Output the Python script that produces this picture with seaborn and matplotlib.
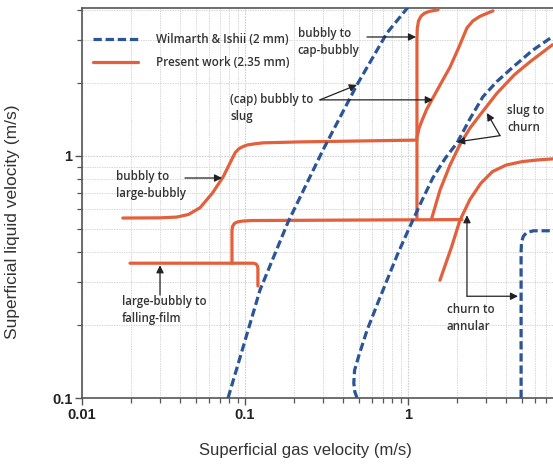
import numpy as np
import pandas as pd
import matplotlib
matplotlib.use("Agg")
import matplotlib.pyplot as plt
import seaborn as sns
from matplotlib.lines import Line2D
from matplotlib.ticker import LogLocator, NullFormatter, FixedLocator, FixedFormatter

# ---------------- data ----------------
# Wilmarth & Ishii (2 mm) transitions
wi_bubbly_slug_x = [0.0787, 0.1236, 0.1836, 0.301, 0.486, 0.743, 1.0]
wi_bubbly_slug_y = [0.10, 0.279, 0.532, 1.056, 1.96, 3.21, 4.1]

wi_slug_churn_x = [0.487, 0.472, 0.465, 0.470, 0.50, 0.56, 0.65, 0.743, 0.86, 1.0, 1.2, 1.42, 1.7, 2.0, 2.4, 2.88, 3.5, 4.4, 5.8, 7.7]
wi_slug_churn_y = [0.10, 0.106, 0.115, 0.13, 0.15, 0.19, 0.245, 0.306, 0.39, 0.49, 0.64, 0.81, 0.98, 1.13, 1.42, 1.75, 2.02, 2.32, 2.72, 3.1]

wi_churn_annular_x = [4.94, 4.94, 4.97, 5.1, 5.35, 5.9, 7.7]
wi_churn_annular_y = [0.10, 0.40, 0.44, 0.465, 0.482, 0.49, 0.49]

# Present work (2.35 mm) transitions
pw_bubbly_large_x = [0.0178, 0.030, 0.038, 0.045, 0.053, 0.063, 0.0734, 0.082, 0.0871, 0.092, 0.097, 0.103, 0.115, 0.129, 0.217, 0.5, 1.135]
pw_bubbly_large_y = [0.553, 0.554, 0.558, 0.572, 0.61, 0.70, 0.817, 0.95, 1.03, 1.07, 1.09, 1.107, 1.12, 1.13, 1.14, 1.15, 1.16]

pw_bubbly_cap_x = [1.135, 1.135, 1.14, 1.16, 1.20, 1.26, 1.35, 1.53]
pw_bubbly_cap_y = [0.545, 3.05, 3.35, 3.6, 3.76, 3.87, 3.94, 4.0]

pw_cap_slug_x = [1.135, 1.17, 1.22, 1.30, 1.40, 1.60, 1.81, 2.05, 2.30, 2.50, 2.76, 3.32]
pw_cap_slug_y = [1.19, 1.30, 1.40, 1.55, 1.70, 2.0, 2.32, 2.80, 3.37, 3.60, 3.76, 3.96]

pw_lower_x = [0.0832, 0.0832, 0.0838, 0.086, 0.090, 0.096, 0.11, 2.14]
pw_lower_y = [0.36, 0.49, 0.51, 0.525, 0.533, 0.537, 0.54, 0.545]

pw_falling_x = [0.0197, 0.113, 0.117, 0.1195, 0.12, 0.12]
pw_falling_y = [0.36, 0.36, 0.357, 0.35, 0.34, 0.29]

pw_slug_churn_x = [1.40, 1.57, 1.81, 2.08, 2.40, 2.76, 3.51, 4.5, 5.6, 7.7]
pw_slug_churn_y = [0.553, 0.72, 0.915, 1.11, 1.30, 1.47, 1.81, 2.16, 2.44, 2.87]

pw_churn_annular_x = [1.57, 1.85, 2.08, 2.4, 2.8, 3.3, 4.0, 5.0, 6.2, 7.7]
pw_churn_annular_y = [0.306, 0.42, 0.54, 0.66, 0.77, 0.86, 0.915, 0.945, 0.96, 0.97]

legend_labels = ["Wilmarth & Ishii (2 mm)", "Present work (2.35 mm)"]
x_ticks = [0.01, 0.1, 1]
x_tick_labels = ["0.01", "0.1", "1"]
y_ticks = [0.1, 1]
y_tick_labels = ["0.1", "1"]

# ---------------- styling ----------------
sns.set_theme(style="white")
plt.rcParams['font.family'] = ['Liberation Sans', 'DejaVu Sans']
plt.rcParams['lines.solid_joinstyle'] = 'round'
plt.rcParams['lines.dash_joinstyle'] = 'round'

BLUE = "#2b5596"
ORANGE = "#e2603c"
LW = 2.3
DASH = [2.6, 1.2]
ANN_FONT = dict(family=['Open Sans', 'DejaVu Sans'], fontsize=8.3, fontweight='semibold', color='#333333')

fig = plt.figure(figsize=(5.53, 4.66), dpi=100)
# axes: left 82px, bottom 68px from bottom, x=10 at 571px (beyond right edge), top at 8px
ax = fig.add_axes([82/553, 68/466, (571-82)/553, (458-68)/466])
ax.set_xscale('log')
ax.set_yscale('log')

blue_curves = [(wi_bubbly_slug_x, wi_bubbly_slug_y),
               (wi_slug_churn_x, wi_slug_churn_y),
               (wi_churn_annular_x, wi_churn_annular_y)]
orange_curves = [(pw_bubbly_large_x, pw_bubbly_large_y),
                 (pw_bubbly_cap_x, pw_bubbly_cap_y),
                 (pw_cap_slug_x, pw_cap_slug_y),
                 (pw_lower_x, pw_lower_y),
                 (pw_falling_x, pw_falling_y),
                 (pw_slug_churn_x, pw_slug_churn_y),
                 (pw_churn_annular_x, pw_churn_annular_y)]

for xs, ys in orange_curves:
    df = pd.DataFrame({"x": xs, "y": ys})
    sns.lineplot(data=df, x="x", y="y", sort=False, estimator=None, ax=ax,
                 color=ORANGE, linewidth=LW, zorder=3)
for xs, ys in blue_curves:
    df = pd.DataFrame({"x": xs, "y": ys})
    sns.lineplot(data=df, x="x", y="y", sort=False, estimator=None, ax=ax,
                 color=BLUE, linewidth=LW, zorder=4)
    ax.lines[-1].set_dashes(DASH)

ax.set_xlim(0.01, 10)
ax.set_ylim(0.1, 4.07)

# grid
ax.grid(True, which='major', color='#d0d0d0', linestyle=(0, (1.5, 1)), linewidth=0.8)
ax.grid(True, which='minor', color='#d8d8d8', linestyle=(0, (1.5, 1)), linewidth=0.7)
ax.set_axisbelow(True)

ax.xaxis.set_major_locator(FixedLocator(x_ticks))
ax.xaxis.set_major_formatter(FixedFormatter(x_tick_labels))
ax.yaxis.set_major_locator(FixedLocator(y_ticks))
ax.yaxis.set_major_formatter(FixedFormatter(y_tick_labels))
ax.xaxis.set_minor_locator(LogLocator(base=10, subs=np.arange(2, 10)))
ax.yaxis.set_minor_locator(LogLocator(base=10, subs=np.arange(2, 10)))
ax.xaxis.set_minor_formatter(NullFormatter())
ax.yaxis.set_minor_formatter(NullFormatter())

ax.tick_params(which='both', direction='out', color='#555555', left=True, bottom=True)
ax.tick_params(which='major', length=5, width=1.0, labelsize=10.5, pad=2, labelcolor='#222222')
ax.tick_params(which='minor', length=3.5, width=0.9)
for lab in ax.get_xticklabels() + ax.get_yticklabels():
    lab.set_fontweight('bold')

for side in ['left', 'bottom', 'top']:
    ax.spines[side].set_color('#555555')
    ax.spines[side].set_linewidth(1.2)
ax.spines['right'].set_visible(False)

ax.set_xlabel("Superficial gas velocity (m/s)", fontsize=12, color='#333333')
ax.set_ylabel("Superficial liquid velocity (m/s)", fontsize=12.5, color='#333333')
ax.xaxis.set_label_coords((305 - 82) / 489, -(443 - 398) / 390)
ax.yaxis.set_label_coords(-(82 - 20) / 489, (398 - 222) / 390)

# legend
handles = [Line2D([], [], color=BLUE, lw=LW, dashes=DASH),
           Line2D([], [], color=ORANGE, lw=LW)]
leg = ax.legend(handles, legend_labels, loc='upper left', bbox_to_anchor=(0.0, 0.962),
                frameon=False, handlelength=3.9, handletextpad=1.5, labelspacing=0.85,
                prop=dict(family=['Open Sans', 'DejaVu Sans'], size=8.4, weight='semibold'))
for t in leg.get_texts():
    t.set_color('#333333')

# annotations
def txt(x, y, s):
    ax.text(x, y, s, ha='left', va='center', linespacing=1.4, **ANN_FONT)

def arrow(x0, y0, x1, y1):
    ax.annotate('', xy=(x1, y1), xytext=(x0, y0),
                arrowprops=dict(arrowstyle='-|>', color='#222222', lw=0.9,
                                mutation_scale=11, shrinkA=0, shrinkB=0), zorder=6)

txt(0.211, 2.95, "bubbly to\ncap-bubbly")
arrow(0.56, 3.09, 1.12, 3.09)

txt(0.081, 1.57, "(cap) bubbly to\nslug")
arrow(0.288, 1.70, 0.486, 1.96)
arrow(0.288, 1.70, 1.42, 1.70)

txt(4.05, 1.42, "slug to\nchurn")
arrow(3.67, 1.21, 3.05, 1.50)
arrow(3.67, 1.21, 2.0, 1.14)

txt(0.0162, 0.757, "bubbly to\nlarge-bubbly")
arrow(0.0428, 0.809, 0.0723, 0.809)

txt(0.0176, 0.23, "large-bubbly to\nfalling-film")
arrow(0.0301, 0.266, 0.0301, 0.353)

txt(1.73, 0.213, "churn to\nannular")
arrow(2.30, 0.263, 2.30, 0.568)
arrow(2.30, 0.263, 4.73, 0.263)

fig.savefig("out.png", dpi=100)
